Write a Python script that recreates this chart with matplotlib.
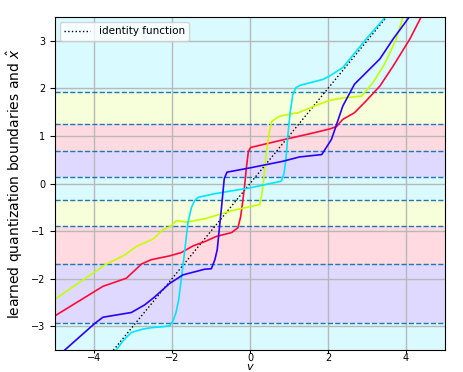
import matplotlib
matplotlib.use("Agg")
import matplotlib.pyplot as plt

# quantization boundaries (dashed lines), bottom to top
boundaries = [-2.93, -1.69, -0.90, -0.34, 0.14, 0.675, 1.26, 1.93]
# color index of each cell between boundaries (from below -inf up to +inf)
cell_colors = ["cyan", "blue", "red", "green", "cyan", "blue", "red", "green", "cyan"]

palette = {"red": "#ff0a3a", "green": "#c4ff00", "cyan": "#00e6ff", "blue": "#2a00ff"}

cyan_v = [-3.6, -3.43, -3.25, -3.04, -2.75, -2.53, -2.25, -2.06, -1.98, -1.90, -1.83, -1.72, -1.59,
          -1.50, -1.42, -1.33, -0.95, -0.52, 0.0, 0.80, 0.87, 0.92, 0.97, 1.03, 1.10, 1.18, 1.30,
          1.87, 2.04, 2.38, 2.98, 3.6]
cyan_y = [-3.67, -3.5, -3.3, -3.13, -3.06, -3.03, -3.01, -2.99, -2.9, -2.72, -2.45, -1.74, -0.82,
          -0.5, -0.36, -0.29, -0.22, -0.16, -0.09, 0.05, 0.2, 0.5, 1.0, 1.5, 1.88, 2.02, 2.07,
          2.19, 2.26, 2.44, 3.04, 3.62]

blue_v = [-5.0, -4.75, -3.98, -3.77, -3.04, -2.70, -2.44, -2.06, -1.72, -1.16, -0.99, -0.90, -0.84,
          -0.78, -0.73, -0.66, -0.59, 0.0, 0.85, 1.27, 1.84, 1.95, 2.09, 2.38, 2.68, 3.33, 3.67,
          4.10, 4.3]
blue_y = [-3.68, -3.5, -2.94, -2.81, -2.71, -2.55, -2.38, -2.10, -1.92, -1.80, -1.79, -1.6, -1.39,
          -0.9, -0.5, 0.1, 0.24, 0.33, 0.47, 0.56, 0.61, 0.75, 0.93, 1.63, 2.09, 2.62, 3.04,
          3.52, 3.75]

red_v = [-5.0, -3.77, -3.17, -2.78, -2.53, -2.06, -1.76, -1.46, -1.16, -0.86, -0.47, -0.31, -0.24,
         -0.19, -0.14, -0.09, -0.04, 0.02, 0.9, 1.6, 2.05, 2.22, 2.38, 2.68, 2.98, 3.33, 3.67,
         4.10, 4.40, 4.6]
red_y = [-2.78, -2.16, -1.99, -1.69, -1.60, -1.52, -1.45, -1.31, -1.22, -1.11, -1.03, -0.93, -0.7,
         -0.4, -0.06, 0.35, 0.68, 0.76, 0.93, 1.06, 1.15, 1.2, 1.35, 1.49, 1.74, 2.05, 2.47,
         3.04, 3.52, 3.8]

green_v = [-5.0, -3.72, -3.21, -2.91, -2.49, -2.23, -2.06, -1.89, -1.63, -1.16, -0.47, 0.25, 0.30,
           0.34, 0.42, 0.50, 0.56, 0.77, 1.24, 1.62, 2.04, 2.38, 2.86, 3.15, 3.45, 3.75, 3.93, 4.05]
green_y = [-2.43, -1.71, -1.50, -1.32, -1.17, -0.97, -0.91, -0.78, -0.81, -0.74, -0.57, -0.44, -0.25,
           0.0, 0.65, 1.1, 1.31, 1.42, 1.49, 1.62, 1.75, 1.80, 1.84, 2.12, 2.51, 3.04, 3.52, 3.75]

identity_v = [-5, 5]

fig = plt.figure(figsize=(4.64, 3.72), dpi=100)
ax = fig.add_axes([0.1185, 0.059, 0.8405, 0.895])

xlim = (-5, 5)
ylim = (-3.5, 3.5)
edges = [-10] + boundaries + [10]
for lo, hi, c in zip(edges[:-1], edges[1:], cell_colors):
    ax.axhspan(lo, hi, color=palette[c], alpha=0.15, lw=0)
for b in boundaries:
    ax.axhline(b, color="#1f77b4", ls="--", lw=1.0)

ax.plot(identity_v, identity_v, color="black", ls=":", lw=1.0, label="identity function")
for vv, yy, c in [(red_v, red_y, "red"), (green_v, green_y, "green"),
                  (cyan_v, cyan_y, "cyan"), (blue_v, blue_y, "blue")]:
    ax.plot(vv, yy, color=palette[c], lw=1.2)

ax.set_xlim(*xlim)
ax.set_ylim(*ylim)
ax.set_xticks([-4, -2, 0, 2, 4])
ax.set_yticks([-3, -2, -1, 0, 1, 2, 3])
ax.grid(True, color="#b8b8b8", lw=1.0)
ax.tick_params(labelsize=7)
ax.tick_params(axis="x", pad=-0.5, length=2.5)
ax.set_xlabel("$v$", fontsize=8, va="bottom")
ax.xaxis.set_label_coords(0.5, -0.0655)
ax.set_ylabel("learned quantization boundaries and $\\hat{x}$", fontsize=10)
ax.legend(loc="upper left", fontsize=7.5, handlelength=2.5)

fig.savefig("out.png", dpi=100)
